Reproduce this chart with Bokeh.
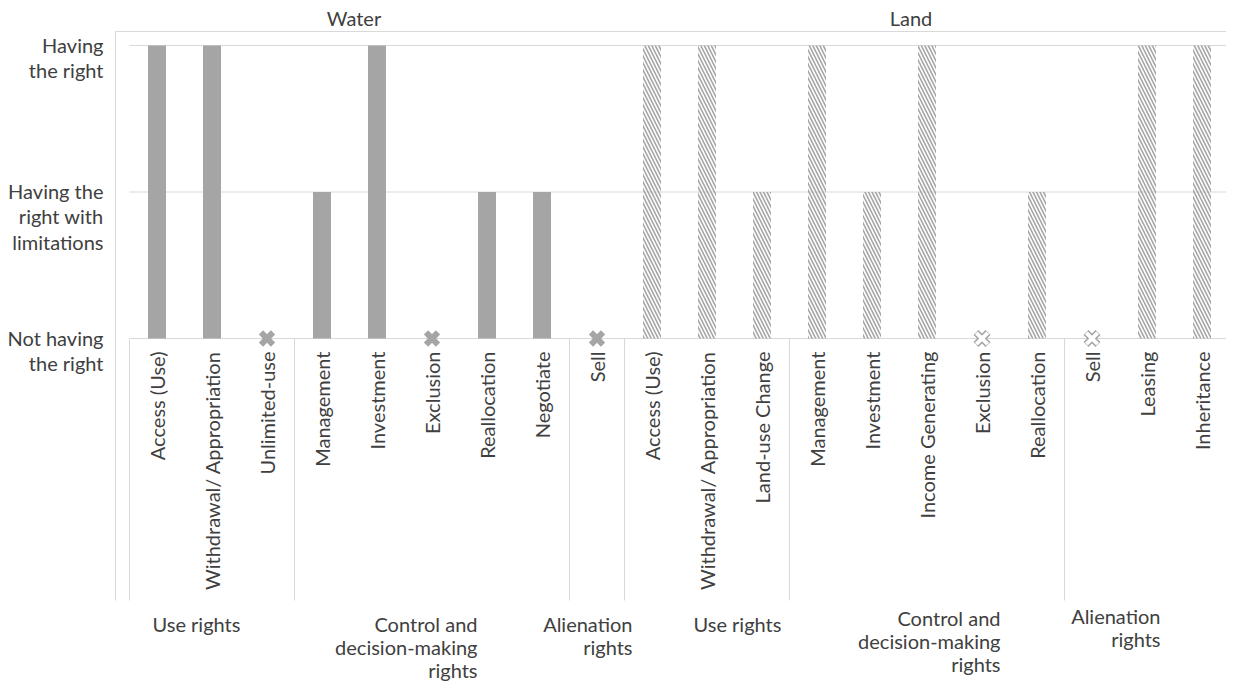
from math import pi
from bokeh.plotting import figure
from bokeh.models import Range1d
from bokeh.core.properties import value
from bokeh.embed import file_html
from bokeh.resources import INLINE

# ---------------- data ----------------
resources = ["Water", "Land"]

water_items = ["Access (Use)", "Withdrawal/ Appropriation", "Unlimited-use",
               "Management", "Investment", "Exclusion", "Reallocation",
               "Negotiate", "Sell"]
water_values = [2, 2, 0, 1, 2, 0, 1, 1, 0]
water_groups = ["Use rights", "Control and\ndecision-making\nrights", "Alienation\nrights"]
water_group_sizes = [3, 5, 1]

land_items = ["Access (Use)", "Withdrawal/ Appropriation", "Land-use Change",
              "Management", "Investment", "Income Generating", "Exclusion",
              "Reallocation", "Sell", "Leasing", "Inheritance"]
land_values = [2, 2, 1, 2, 1, 2, 0, 1, 0, 2, 2]
land_groups = ["Use rights", "Control and\ndecision-making\nrights", "Alienation\nrights"]
land_group_sizes = [3, 5, 3]

level_values = [0, 1, 2]
level_labels = ["Not having\nthe right", "Having the\nright with\nlimitations", "Having\nthe right"]

# ---------------- layout (canvas pixels) ----------------
W, H = 1226, 682
PX0, CAT_W, PY0, LEV_H = 129.0, 55.0, 338.0, 146.5


def xd(px):
    return (px - PX0) / CAT_W


def yd(py):
    return (PY0 - py) / LEV_H


FONT = value("Lato")
FS = 20
TXT = "#404040"
GREY = "#a5a5a5"
LINE = "#d9d9d9"
BAR_W = 18.0 / CAT_W

p = figure(width=W, height=H, output_backend="svg", toolbar_location=None,
           x_range=Range1d(xd(0), xd(W)),
           y_range=Range1d(yd(H), yd(0)),
           x_axis_location=None, y_axis_location=None, min_border=0)
p.grid.visible = False
p.outline_line_color = None
p.background_fill_color = "white"

n_w = len(water_items)
n_l = len(land_items)
n = n_w + n_l
xs_w = [i + 0.5 for i in range(n_w)]
xs_l = [n_w + i + 0.5 for i in range(n_l)]

# frame lines
p.segment(x0=[0] * len(level_values), x1=[n] * len(level_values),
          y0=level_values, y1=level_values, line_color=LINE, line_width=1)
p.segment(x0=[xd(115)], x1=[xd(W + 5)], y0=[yd(31)], y1=[yd(31)], line_color=LINE, line_width=1)
p.segment(x0=[xd(115)], x1=[xd(115)], y0=[yd(31)], y1=[yd(600)], line_color=LINE, line_width=1)

bounds = [0]
for s in water_group_sizes + land_group_sizes:
    bounds.append(bounds[-1] + s)
p.segment(x0=bounds, x1=bounds, y0=[0] * len(bounds), y1=[yd(600)] * len(bounds),
          line_color=LINE, line_width=1)

# bars
wx = [x for x, v in zip(xs_w, water_values) if v > 0]
wv = [v for v in water_values if v > 0]
p.vbar(x=wx, top=wv, bottom=0, width=BAR_W, fill_color=GREY, line_color=None)

lx = [x for x, v in zip(xs_l, land_values) if v > 0]
lv = [v for v in land_values if v > 0]
p.vbar(x=lx, top=lv, bottom=0, width=BAR_W, fill_color=None, line_color=None,
       hatch_pattern="\\", hatch_color=GREY, hatch_scale=7, hatch_weight=1.6)

# zero markers
wz = [x for x, v in zip(xs_w, water_values) if v == 0]
p.scatter(x=wz, y=[0] * len(wz), marker="x", size=17, line_color=GREY, line_width=6)
lz = [x for x, v in zip(xs_l, land_values) if v == 0]
p.scatter(x=lz, y=[0] * len(lz), marker="x", size=17, line_color=GREY, line_width=7)
p.scatter(x=lz, y=[0] * len(lz), marker="x", size=16, line_color="white", line_width=4)

# category labels
p.text(x=xs_w + xs_l, y=[0] * n, text=water_items + land_items, angle=pi / 2,
       text_align="right", text_baseline="middle", y_offset=13,
       text_font=FONT, text_font_size=f"{FS}px", text_color=TXT)

# level labels
p.text(x=[xd(103)] * 3, y=level_values, text=level_labels,
       text_align="right", text_baseline="top", y_offset=-FS * 0.65,
       text_line_height=1.06,
       text_font=FONT, text_font_size=f"{FS}px", text_color=TXT)

# resource titles
p.text(x=[xd(353.5), xd(910.5)], y=[yd(17)] * 2, text=resources,
       text_align="center", text_baseline="middle",
       text_font=FONT, text_font_size=f"{FS}px", text_color=TXT)

# group labels
group_texts = water_groups + land_groups
group_pos = [(152, 624, "left"), (477, 624, "right"), (632, 624, "right"),
             (693, 624, "left"), (1000, 618, "right"), (1160, 616, "right")]
for align in ("left", "right"):
    gx = [xd(gp[0]) for gp in group_pos if gp[2] == align]
    gy = [yd(gp[1]) for gp in group_pos if gp[2] == align]
    gt = [t for t, gp in zip(group_texts, group_pos) if gp[2] == align]
    p.text(x=gx, y=gy, text=gt, text_align=align, text_baseline="top",
           y_offset=-FS * 0.65, text_line_height=0.97,
           text_font=FONT, text_font_size=f"{FS}px", text_color=TXT)

open("out.html", "w").write(file_html(p, INLINE))
